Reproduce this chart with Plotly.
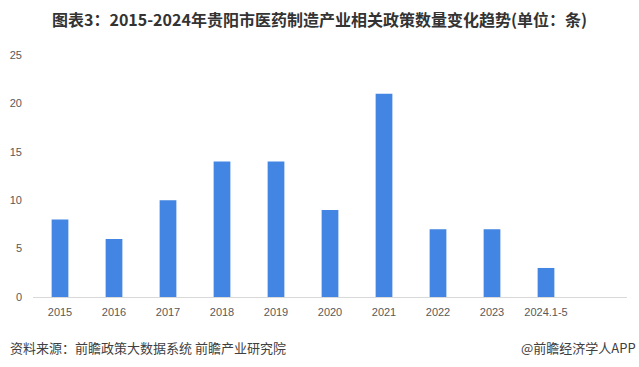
import plotly.graph_objects as go

categories = ["2015", "2016", "2017", "2018", "2019", "2020", "2021", "2022", "2023", "2024.1-5"]
values = [8, 6, 10, 14, 14, 9, 21, 7, 7, 3]
y_ticks = [0, 5, 10, 15, 20, 25]

title_text = "图表3：2015-2024年贵阳市医药制造产业相关政策数量变化趋势(单位：条)"
source_text = "资料来源：前瞻政策大数据系统 前瞻产业研究院"
brand_text = "@前瞻经济学人APP"

fig = go.Figure()
fig.add_trace(go.Bar(
    x=list(range(len(categories))),
    y=values,
    marker=dict(color="#4285E2", line=dict(width=0)),
    width=0.31,
    hoverinfo="x+y",
))

fig.update_layout(
    width=639, height=367,
    margin=dict(l=33, r=12, t=55, b=70),
    paper_bgcolor="white", plot_bgcolor="white",
    showlegend=False,
    font=dict(family="Liberation Sans, DejaVu Sans, Noto Sans CJK SC", color="#595959", size=11),
    title=dict(text="<b>" + title_text + "</b>", x=0.5, xanchor="center", y=0.945, yanchor="middle",
               automargin=False,
               font=dict(size=16, color="#333333", family="Liberation Sans Narrow, Noto Sans CJK SC")),
    xaxis=dict(
        range=[-0.5, len(categories) + 0.5],
        tickmode="array", tickvals=list(range(len(categories))), ticktext=categories,
        showgrid=False, zeroline=False, automargin=False,
        showline=True, linecolor="#D9D9D9", linewidth=1,
        ticks="", ticklabelstandoff=5, tickfont=dict(size=11, color="#595959"),
    ),
    yaxis=dict(
        range=[0, 25], tickmode="array", tickvals=y_ticks,
        showgrid=False, zeroline=False, showline=False, automargin=False,
        ticks="", ticklabelstandoff=10, tickfont=dict(size=11, color="#595959"),
    ),
    annotations=[
        dict(text=source_text, xref="paper", yref="paper", x=-0.042, y=-0.207,
             xanchor="left", yanchor="middle", showarrow=False,
             font=dict(size=13, color="#404040", family="Noto Sans CJK SC")),
        dict(text=brand_text, xref="paper", yref="paper", x=1.0185, y=-0.207,
             xanchor="right", yanchor="middle", showarrow=False,
             font=dict(size=13, color="#404040", family="Noto Sans CJK SC")),
    ],
)

fig.write_html("out.html", config={"displayModeBar": False},
               post_script="document.body.style.margin='0';document.body.style.overflow='hidden';")
